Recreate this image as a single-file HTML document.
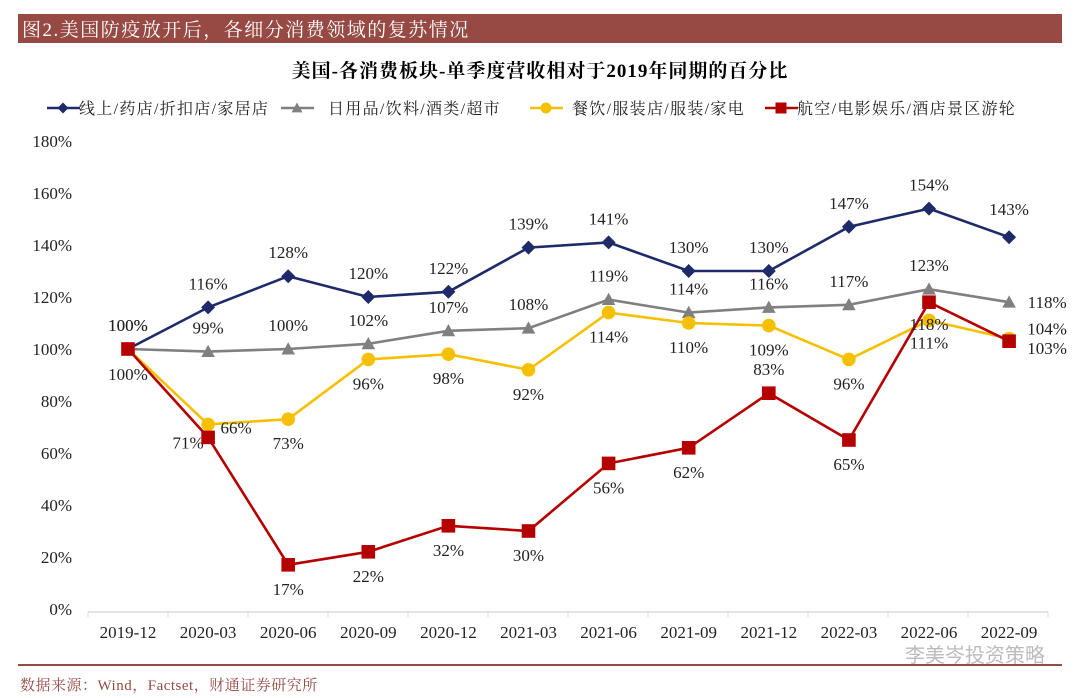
<!DOCTYPE html>
<html><head><meta charset="utf-8"><style>
body{margin:0;width:1080px;height:698px;background:#fff;overflow:hidden;font-family:"Liberation Serif","Noto Serif CJK SC",serif}
</style></head><body>
<svg width="1080" height="698" style="position:absolute;left:0;top:0">
<rect x="18" y="14" width="1044" height="29" fill="#974a44"/>
<text x="22" y="36" font-size="19" letter-spacing="1.5" fill="#fff" font-family="'Liberation Serif','Noto Serif CJK SC',serif">图2.美国防疫放开后，各细分消费领域的复苏情况</text>
<text x="540" y="77" text-anchor="middle" font-size="19" font-weight="bold" letter-spacing="1" fill="#000">美国-各消费板块-单季度营收相对于2019年同期的百分比</text>
<g id="legend"></g>
<g id="grid"></g>
<g id="marks"></g>
<line x1="18" y1="665" x2="1062" y2="665" stroke="#974a44" stroke-width="2"/>
<text x="20" y="690" font-size="15" letter-spacing="0.5" fill="#974a44">数据来源：Wind，Factset，财通证券研究所</text>
<text x="1045" y="662" text-anchor="end" font-size="20" fill="#bbb" font-family="'Noto Sans CJK SC',sans-serif">李美岑投资策略</text>
</svg>
<script>
const categories=["2019-12","2020-03","2020-06","2020-09","2020-12","2021-03","2021-06","2021-09","2021-12","2022-03","2022-06","2022-09"];
const yTicks=[0,20,40,60,80,100,120,140,160,180];
const online=[100,116,128,120,122,139,141,130,130,147,154,143];
const daily=[100,99,100,102,107,108,119,114,116,117,123,118];
const food=[100,71,73,96,98,92,114,110,109,96,111,104];
const travel=[100,66,17,22,32,30,56,62,83,65,118,103];
const names=["线上/药店/折扣店/家居店","日用品/饮料/酒类/超市","餐饮/服装店/服装/家电","航空/电影娱乐/酒店景区游轮"];
const NS="http://www.w3.org/2000/svg";
function x(i){return 128+i*80.1;}
function y(v){return 609-v*2.6;}
function el(t,a,p){const e=document.createElementNS(NS,t);for(const k in a)e.setAttribute(k,a[k]);p.appendChild(e);return e;}
const grid=document.getElementById('grid'),marks=document.getElementById('marks'),leg=document.getElementById('legend');
yTicks.forEach(v=>{const t=el('text',{x:72,y:y(v)+6,'text-anchor':'end','font-size':17,fill:'#222'},grid);t.textContent=v+'%';

});
el('line',{x1:88,y1:612,x2:1048,y2:612,stroke:'#d9d9d9','stroke-width':1.5},grid);
for(let i=0;i<=12;i++)el('line',{x1:88+i*80,y1:612,x2:88+i*80,y2:617,stroke:'#d9d9d9'},grid);
categories.forEach((c,i)=>{const t=el('text',{x:x(i),y:638,'text-anchor':'middle','font-size':17,fill:'#222'},grid);t.textContent=c;

});
const series=[
 {d:online,c:'#1f2a6b',m:'diamond',off:online.map((_,i)=>i==0?[0,-18]:(i==11?[0,-22]:[0,-18]))},
 {d:daily,c:'#808080',m:'tri',off:daily.map((_,i)=>i==0?[0,-18]:(i==11?[38,6]:[0,-18]))},
 {d:food,c:'#f5c000',m:'circle',off:food.map((_,i)=>i==0?[0,31]:i==1?[-20,24]:i==11?[38,-4]:i==10?[0,28]:[0,30])},
 {d:travel,c:'#b50000',m:'square',off:travel.map((_,i)=>i==0?null:i==1?[28,-4]:i==8?[0,-18]:i==11?[38,13]:i==10?[0,28]:[0,30])}
];
const snames=['series-online','series-daily','series-food','series-travel'];
function marker(s,cx,cy,p,sz){
 if(s.m=='diamond')return el('path',{d:`M${cx} ${cy-sz}L${cx+sz} ${cy}L${cx} ${cy+sz}L${cx-sz} ${cy}Z`,fill:s.c},p);
 if(s.m=='tri')return el('path',{d:`M${cx} ${cy-sz}L${cx+sz} ${cy+sz*0.8}L${cx-sz} ${cy+sz*0.8}Z`,fill:s.c},p);
 if(s.m=='circle')return el('circle',{cx,cy,r:sz,fill:s.c},p);
 return el('rect',{x:cx-sz,y:cy-sz,width:2*sz,height:2*sz,fill:s.c},p);
}
series.forEach((s,k)=>{
 const g=el('g',{},marks);
 
 
 el('polyline',{points:s.d.map((v,i)=>x(i)+','+y(v)).join(' '),fill:'none',stroke:s.c,'stroke-width':2.6},g);
 s.d.forEach((v,i)=>{const m=marker(s,x(i),y(v),g,s.m=='diamond'?7:6.8);
  
  
  const o=s.off[i];if(!o)return;
  const t=el('text',{x:x(i)+o[0],y:y(v)+o[1],'text-anchor':'middle','font-size':17,fill:'#222'},g);t.textContent=v+'%';
  
  });
});
const lx=[47,281,530,765];
const tx=[79,328,572,797];
series.forEach((s,k)=>{
 el('line',{x1:lx[k],y1:108,x2:lx[k]+33,y2:108,stroke:s.c,'stroke-width':2.4},leg);
 marker(s,lx[k]+16,108,leg,5.5);
 const t=el('text',{x:tx[k],y:114,'font-size':16,'letter-spacing':1.3,fill:'#222'},leg);t.textContent=names[k];
 
 
});
</script>
</body></html>
